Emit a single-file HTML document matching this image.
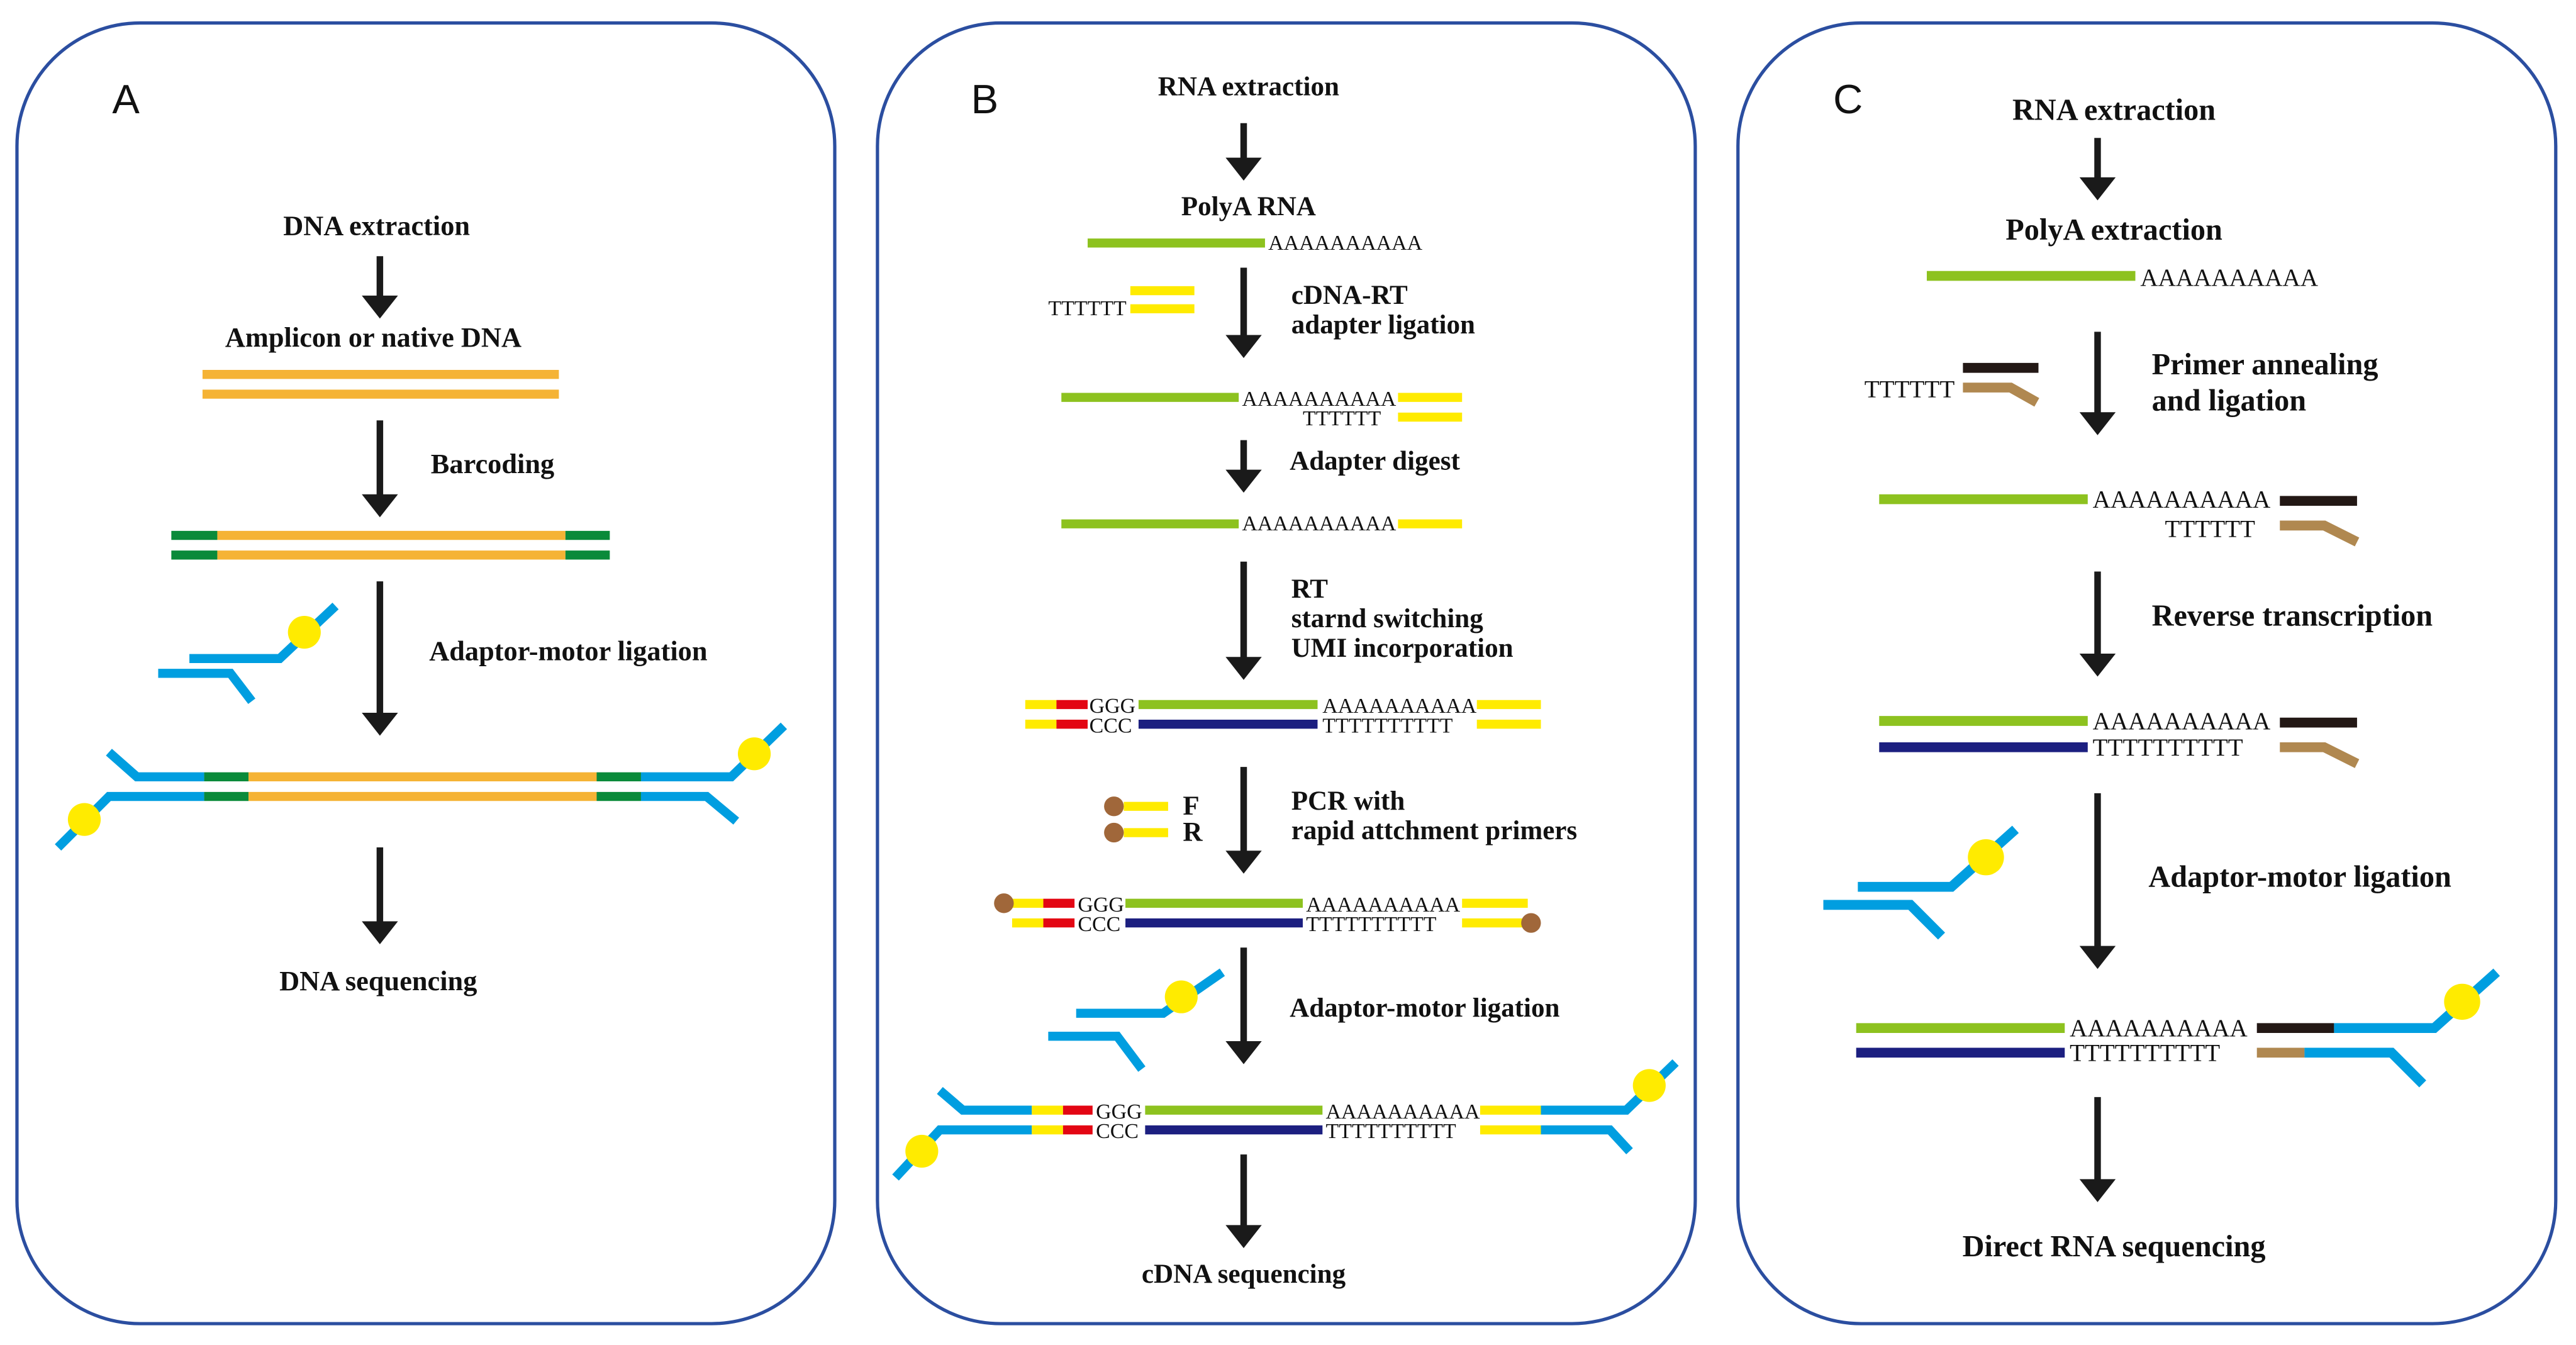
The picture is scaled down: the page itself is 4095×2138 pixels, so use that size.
<!DOCTYPE html>
<html><head><meta charset="utf-8"><style>html,body{margin:0;padding:0;background:#fff}svg{display:block}
.t{font-family:"Liberation Serif",serif;font-weight:bold;font-size:17px;fill:#111}
.tb{font-size:16.5px}
.s{font-family:"Liberation Serif",serif;font-size:13px;fill:#111}
.L{font-family:"Liberation Sans",sans-serif;font-size:25px;fill:#111}
</style></head><body>
<svg width="4095" height="2138" viewBox="0 0 1568 819" xmlns="http://www.w3.org/2000/svg">
<defs>
<g id="arrowhead"><polygon points="-11,-14 11,-14 0,0" fill="#1a1a1a"/></g>
</defs>
<g fill="none" stroke="#2b4ea0" stroke-width="2">
<rect x="10" y="14" width="498" height="792" rx="75"/>
<rect x="534" y="14" width="498" height="792" rx="75"/>
<rect x="1058" y="14" width="498" height="792" rx="75"/>
</g>
<g stroke="#1a1a1a" stroke-width="4">
<line x1="231" y1="156" x2="231" y2="182"/><line x1="231" y1="256" x2="231" y2="303"/>
<line x1="231" y1="354" x2="231" y2="436"/><line x1="231" y1="516" x2="231" y2="563"/>
<line x1="757" y1="75" x2="757" y2="98"/><line x1="757" y1="163" x2="757" y2="206"/>
<line x1="757" y1="268" x2="757" y2="288"/><line x1="757" y1="342" x2="757" y2="402"/>
<line x1="757" y1="467" x2="757" y2="520"/><line x1="757" y1="577" x2="757" y2="636"/>
<line x1="757" y1="703" x2="757" y2="748"/>
<line x1="1277" y1="84" x2="1277" y2="110"/><line x1="1277" y1="202" x2="1277" y2="253"/>
<line x1="1277" y1="348" x2="1277" y2="400"/><line x1="1277" y1="483" x2="1277" y2="578"/>
<line x1="1277" y1="668" x2="1277" y2="720"/>
</g>
<use href="#arrowhead" x="231" y="194"/><use href="#arrowhead" x="231" y="315"/><use href="#arrowhead" x="231" y="448"/><use href="#arrowhead" x="231" y="575"/>
<use href="#arrowhead" x="757" y="110"/><use href="#arrowhead" x="757" y="218"/><use href="#arrowhead" x="757" y="300"/><use href="#arrowhead" x="757" y="414"/><use href="#arrowhead" x="757" y="532"/><use href="#arrowhead" x="757" y="648"/><use href="#arrowhead" x="757" y="760"/>
<use href="#arrowhead" x="1277" y="122"/><use href="#arrowhead" x="1277" y="265"/><use href="#arrowhead" x="1277" y="412"/><use href="#arrowhead" x="1277" y="590"/><use href="#arrowhead" x="1277" y="732"/>

<!-- Panel A -->
<text class="L" x="68" y="69">A</text>
<text class="t" x="229" y="143" text-anchor="middle">DNA extraction</text>
<text class="t" x="227" y="211" text-anchor="middle">Amplicon or native DNA</text>
<g stroke-width="5.5" fill="none">
<line x1="123" y1="228" x2="340" y2="228" stroke="#f5b335"/><line x1="123" y1="240" x2="340" y2="240" stroke="#f5b335"/>
<line x1="104" y1="326" x2="132" y2="326" stroke="#0a8a3a"/><line x1="132" y1="326" x2="344" y2="326" stroke="#f5b335"/><line x1="344" y1="326" x2="371" y2="326" stroke="#0a8a3a"/>
<line x1="104" y1="338" x2="132" y2="338" stroke="#0a8a3a"/><line x1="132" y1="338" x2="344" y2="338" stroke="#f5b335"/><line x1="344" y1="338" x2="371" y2="338" stroke="#0a8a3a"/>
<polyline points="115,401 170,401 204,369" stroke="#009ee0"/>
<polyline points="96,410 140,410 153,427" stroke="#009ee0"/>
<polyline points="66,458 83,473 124,473" stroke="#009ee0"/>
<line x1="124" y1="473" x2="151" y2="473" stroke="#0a8a3a"/><line x1="151" y1="473" x2="363" y2="473" stroke="#f5b335"/><line x1="363" y1="473" x2="390" y2="473" stroke="#0a8a3a"/>
<polyline points="390,473 445,473 477,442" stroke="#009ee0"/>
<polyline points="35,516 66,485 124,485" stroke="#009ee0"/>
<line x1="124" y1="485" x2="151" y2="485" stroke="#0a8a3a"/><line x1="151" y1="485" x2="363" y2="485" stroke="#f5b335"/><line x1="363" y1="485" x2="390" y2="485" stroke="#0a8a3a"/>
<polyline points="390,485 430,485 448,500" stroke="#009ee0"/>
</g>
<g fill="#ffeb00"><circle cx="185" cy="385" r="10"/><circle cx="459" cy="459" r="10"/><circle cx="51" cy="499" r="10"/></g>
<text class="t" x="262" y="288">Barcoding</text>
<text class="t" x="261" y="402">Adaptor-motor ligation</text>
<text class="t" x="230" y="603" text-anchor="middle">DNA sequencing</text>

<!-- Panel B -->
<text class="L" x="591" y="69">B</text>
<g class="t tb">
<text x="760" y="58" text-anchor="middle">RNA extraction</text>
<text x="760" y="131" text-anchor="middle">PolyA RNA</text>
<text x="786" y="185">cDNA-RT</text><text x="786" y="203">adapter ligation</text>
<text x="785" y="286">Adapter digest</text>
<text x="786" y="364">RT</text><text x="786" y="382">starnd switching</text><text x="786" y="400">UMI incorporation</text>
<text x="786" y="493">PCR with</text><text x="786" y="511">rapid attchment primers</text>
<text x="720" y="496">F</text><text x="720" y="512">R</text>
<text x="785" y="619">Adaptor-motor ligation</text>
<text x="757" y="781" text-anchor="middle">cDNA sequencing</text>
</g>
<g class="s">
<text x="772" y="152">AAAAAAAAAA</text>
<text x="638" y="192">TTTTTT</text>
<text x="756" y="247">AAAAAAAAAA</text><text x="793" y="259">TTTTTT</text>
<text x="756" y="323">AAAAAAAAAA</text>
<text x="663" y="434">GGG</text><text x="805" y="434">AAAAAAAAAA</text>
<text x="663" y="446">CCC</text><text x="805" y="446">TTTTTTTTTT</text>
<text x="656" y="555">GGG</text><text x="795" y="555">AAAAAAAAAA</text>
<text x="656" y="567">CCC</text><text x="795" y="567">TTTTTTTTTT</text>
<text x="667" y="681">GGG</text><text x="807" y="681">AAAAAAAAAA</text>
<text x="667" y="693">CCC</text><text x="807" y="693">TTTTTTTTTT</text>
</g>
<g stroke-width="5.5" fill="none">
<line x1="662" y1="148" x2="770" y2="148" stroke="#8dc21f"/>
<line x1="688" y1="177" x2="727" y2="177" stroke="#ffeb00"/><line x1="688" y1="188" x2="727" y2="188" stroke="#ffeb00"/>
<line x1="646" y1="242" x2="754" y2="242" stroke="#8dc21f"/><line x1="851" y1="242" x2="890" y2="242" stroke="#ffeb00"/><line x1="851" y1="254" x2="890" y2="254" stroke="#ffeb00"/>
<line x1="646" y1="319" x2="754" y2="319" stroke="#8dc21f"/><line x1="851" y1="319" x2="890" y2="319" stroke="#ffeb00"/>
<line x1="624" y1="429" x2="643" y2="429" stroke="#ffeb00"/><line x1="643" y1="429" x2="662" y2="429" stroke="#e30613"/><line x1="693" y1="429" x2="802" y2="429" stroke="#8dc21f"/><line x1="899" y1="429" x2="938" y2="429" stroke="#ffeb00"/>
<line x1="624" y1="441" x2="643" y2="441" stroke="#ffeb00"/><line x1="643" y1="441" x2="662" y2="441" stroke="#e30613"/><line x1="693" y1="441" x2="802" y2="441" stroke="#1c1f80"/><line x1="899" y1="441" x2="938" y2="441" stroke="#ffeb00"/>
<line x1="684" y1="491" x2="711" y2="491" stroke="#ffeb00"/><line x1="684" y1="507" x2="711" y2="507" stroke="#ffeb00"/>
<line x1="616" y1="550" x2="635" y2="550" stroke="#ffeb00"/><line x1="635" y1="550" x2="654" y2="550" stroke="#e30613"/><line x1="685" y1="550" x2="793" y2="550" stroke="#8dc21f"/><line x1="890" y1="550" x2="930" y2="550" stroke="#ffeb00"/>
<line x1="616" y1="562" x2="635" y2="562" stroke="#ffeb00"/><line x1="635" y1="562" x2="654" y2="562" stroke="#e30613"/><line x1="685" y1="562" x2="793" y2="562" stroke="#1c1f80"/><line x1="890" y1="562" x2="930" y2="562" stroke="#ffeb00"/>
<polyline points="655,617 708,617 744,592" stroke="#009ee0"/>
<polyline points="638,631 680,631 695,651" stroke="#009ee0"/>
<polyline points="572,664 586,676 628,676" stroke="#009ee0"/>
<line x1="628" y1="676" x2="647" y2="676" stroke="#ffeb00"/><line x1="647" y1="676" x2="665" y2="676" stroke="#e30613"/><line x1="697" y1="676" x2="805" y2="676" stroke="#8dc21f"/><line x1="901" y1="676" x2="938" y2="676" stroke="#ffeb00"/>
<polyline points="938,676 990,676 1020,647" stroke="#009ee0"/>
<polyline points="545,717 572,688 628,688" stroke="#009ee0"/>
<line x1="628" y1="688" x2="647" y2="688" stroke="#ffeb00"/><line x1="647" y1="688" x2="665" y2="688" stroke="#e30613"/><line x1="697" y1="688" x2="805" y2="688" stroke="#1c1f80"/><line x1="901" y1="688" x2="938" y2="688" stroke="#ffeb00"/>
<polyline points="938,688 980,688 992,701" stroke="#009ee0"/>
</g>
<g fill="#a0673a"><circle cx="678" cy="491" r="6"/><circle cx="678" cy="507" r="6"/><circle cx="611" cy="550" r="6"/><circle cx="932" cy="562" r="6"/></g>
<g fill="#ffeb00"><circle cx="719" cy="607" r="10"/><circle cx="1004" cy="661" r="10"/><circle cx="561" cy="701" r="10"/></g>

<!-- Panel C -->
<text class="L" x="1116" y="69">C</text>
<g class="t" style="font-size:18.5px">
<text x="1287" y="73" text-anchor="middle">RNA extraction</text>
<text x="1287" y="146" text-anchor="middle">PolyA extraction</text>
<text x="1310" y="228">Primer annealing</text><text x="1310" y="250">and ligation</text>
<text x="1310" y="381">Reverse transcription</text>
<text x="1308" y="540">Adaptor-motor ligation</text>
<text x="1287" y="765" text-anchor="middle">Direct RNA sequencing</text>
</g>
<g class="s" style="font-size:15px">
<text x="1303" y="174">AAAAAAAAAA</text>
<text x="1135" y="242">TTTTTT</text>
<text x="1274" y="309">AAAAAAAAAA</text><text x="1318" y="327">TTTTTT</text>
<text x="1274" y="444">AAAAAAAAAA</text><text x="1274" y="460">TTTTTTTTTT</text>
<text x="1260" y="631">AAAAAAAAAA</text><text x="1260" y="646">TTTTTTTTTT</text>
</g>
<g stroke-width="6" fill="none">
<line x1="1173" y1="168" x2="1300" y2="168" stroke="#8dc21f"/>
<line x1="1195" y1="224" x2="1241" y2="224" stroke="#231815"/>
<polyline points="1195,236 1224,236 1240,245" stroke="#b08850"/>
<line x1="1144" y1="304" x2="1271" y2="304" stroke="#8dc21f"/>
<line x1="1388" y1="305" x2="1435" y2="305" stroke="#231815"/>
<polyline points="1388,320 1415,320 1435,330" stroke="#b08850"/>
<line x1="1144" y1="439" x2="1271" y2="439" stroke="#8dc21f"/>
<line x1="1388" y1="440" x2="1435" y2="440" stroke="#231815"/>
<line x1="1144" y1="455" x2="1271" y2="455" stroke="#1c1f80"/>
<polyline points="1388,455 1415,455 1435,465" stroke="#b08850"/>
<polyline points="1131,540 1188,540 1227,505" stroke="#009ee0"/>
<polyline points="1110,551 1163,551 1182,570" stroke="#009ee0"/>
<line x1="1130" y1="626" x2="1257" y2="626" stroke="#8dc21f"/>
<line x1="1374" y1="626" x2="1421" y2="626" stroke="#231815"/>
<polyline points="1421,626 1482,626 1520,592" stroke="#009ee0"/>
<line x1="1130" y1="641" x2="1257" y2="641" stroke="#1c1f80"/>
<line x1="1374" y1="641" x2="1403" y2="641" stroke="#b08850"/>
<polyline points="1403,641 1456,641 1475,660" stroke="#009ee0"/>
</g>
<g fill="#ffeb00"><circle cx="1209" cy="522" r="11"/><circle cx="1499" cy="610" r="11"/></g>
</svg>
</body></html>
